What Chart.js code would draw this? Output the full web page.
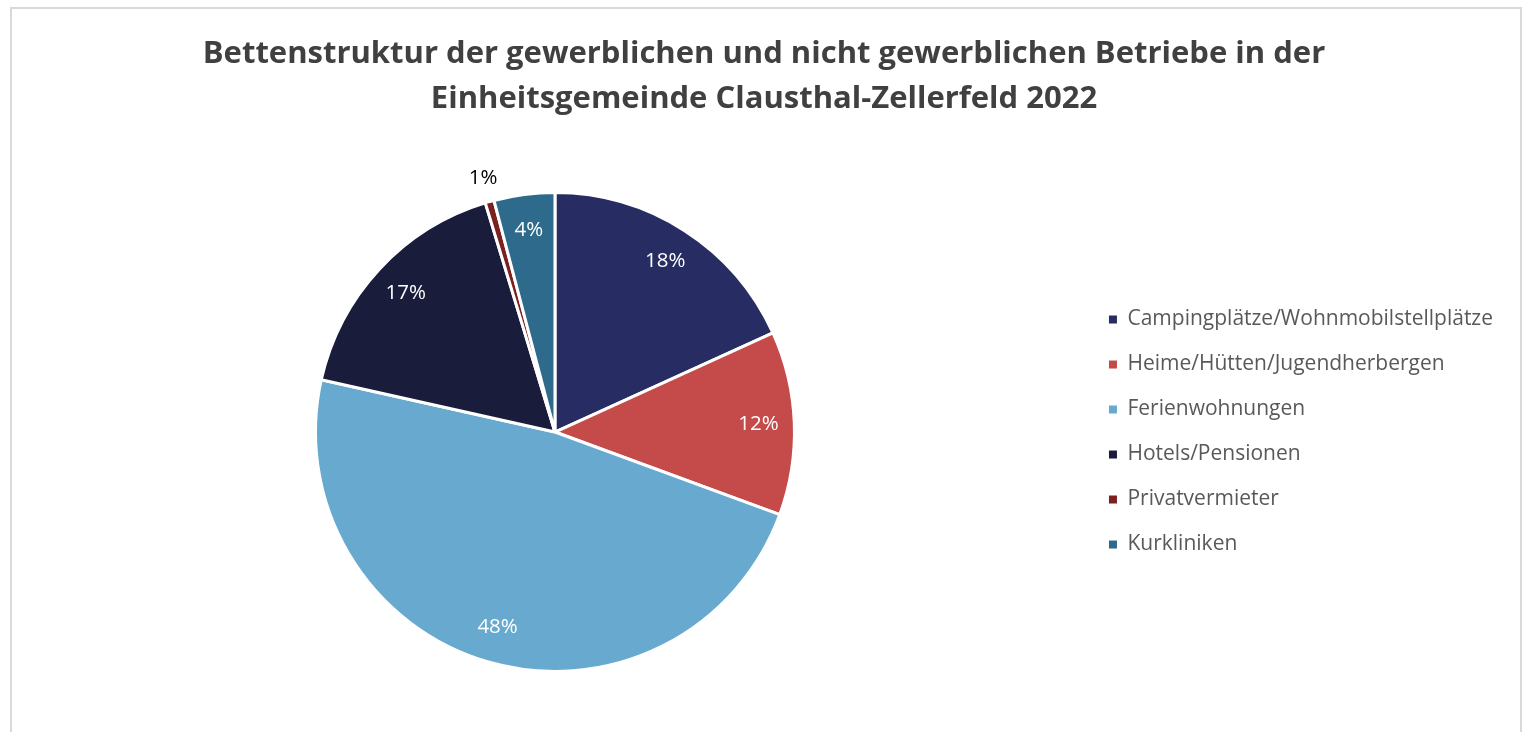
<!DOCTYPE html>
<html>
<head>
    <meta charset="utf-8">
    <title>Bettenstruktur Clausthal-Zellerfeld 2022</title>
    <script src="https://cdn.jsdelivr.net/npm/chart.js"></script>
    <style>
        html, body {
            margin: 0;
            padding: 0;
            background: #ffffff;
            overflow: hidden;
        }

        .chart-frame {
            position: absolute;
            left: 10px;
            top: 7px;
            width: 1508px;
            height: 728px;
            border: 2px solid #d9d9d9;
            background: #ffffff;
        }
    </style>
</head>
<body>
    <div class="chart-frame">
        <canvas id="bedsChart"></canvas>
    </div>

    <script>
        // Daten (Anteile in %)
        const categories = [
            'Campingplätze/Wohnmobilstellplätze',
            'Heime/Hütten/Jugendherbergen',
            'Ferienwohnungen',
            'Hotels/Pensionen',
            'Privatvermieter',
            'Kurkliniken'
        ];
        const shares = [18.2, 12.4, 47.9, 16.8, 0.6, 4.1];
        const sliceColors = ['#272d62', '#c54b4b', '#68aacf', '#1a1c3b', '#7c2020', '#2d6a8b'];

        const titleLines = [
            'Bettenstruktur der gewerblichen und nicht gewerblichen Betriebe in der',
            'Einheitsgemeinde Clausthal-Zellerfeld 2022'
        ];

        // Prozentbeschriftungen an den Segmenten
        const sliceLabels = {
            id: 'sliceLabels',
            afterDatasetsDraw(chart) {
                const ctx = chart.ctx;
                const meta = chart.getDatasetMeta(0);
                const values = chart.data.datasets[0].data;
                const total = values.reduce((a, b) => a + b, 0);
                ctx.save();
                ctx.font = '20.5px "Open Sans"';
                ctx.textAlign = 'center';
                ctx.textBaseline = 'middle';
                meta.data.forEach((arc, i) => {
                    const p = arc.getProps(['x', 'y', 'startAngle', 'endAngle', 'outerRadius'], true);
                    const pct = values[i] / total * 100;
                    const mid = (p.startAngle + p.endAngle) / 2;
                    const outside = pct < 2;
                    const r = p.outerRadius * (outside ? 1.1 : 0.85);
                    ctx.fillStyle = outside ? '#000000' : '#ffffff';
                    ctx.fillText(Math.round(pct) + '%', p.x + Math.cos(mid) * r, p.y + Math.sin(mid) * r);
                });
                ctx.restore();
            }
        };

        const ctx = document.getElementById('bedsChart');
        new Chart(ctx, {
            type: 'pie',
            data: {
                labels: categories,
                datasets: [{
                    data: shares,
                    backgroundColor: sliceColors,
                    borderColor: '#ffffff',
                    borderWidth: 3
                }]
            },
            options: {
                responsive: true,
                maintainAspectRatio: false,
                animation: false,
                layout: {
                    padding: { top: 0, left: 13, right: 17, bottom: 64 }
                },
                plugins: {
                    title: {
                        display: true,
                        text: titleLines,
                        color: '#404040',
                        font: { family: 'Open Sans', size: 31, weight: 'bold', lineHeight: 1.452 },
                        padding: { top: 23, bottom: 69 }
                    },
                    legend: {
                        position: 'right',
                        fullSize: false,
                        labels: {
                            boxWidth: 8,
                            boxHeight: 8,
                            padding: 24,
                            color: '#595959',
                            font: { family: 'Open Sans', size: 21 },
                            // Legendenkästchen ohne weißen Rand
                            generateLabels(chart) {
                                const items = Chart.overrides.pie.plugins.legend.labels.generateLabels(chart);
                                return items.map(item => ({ ...item, lineWidth: 0 }));
                            }
                        }
                    },
                    tooltip: { enabled: false }
                }
            },
            plugins: [sliceLabels]
        });
    </script>
</body>
</html>
